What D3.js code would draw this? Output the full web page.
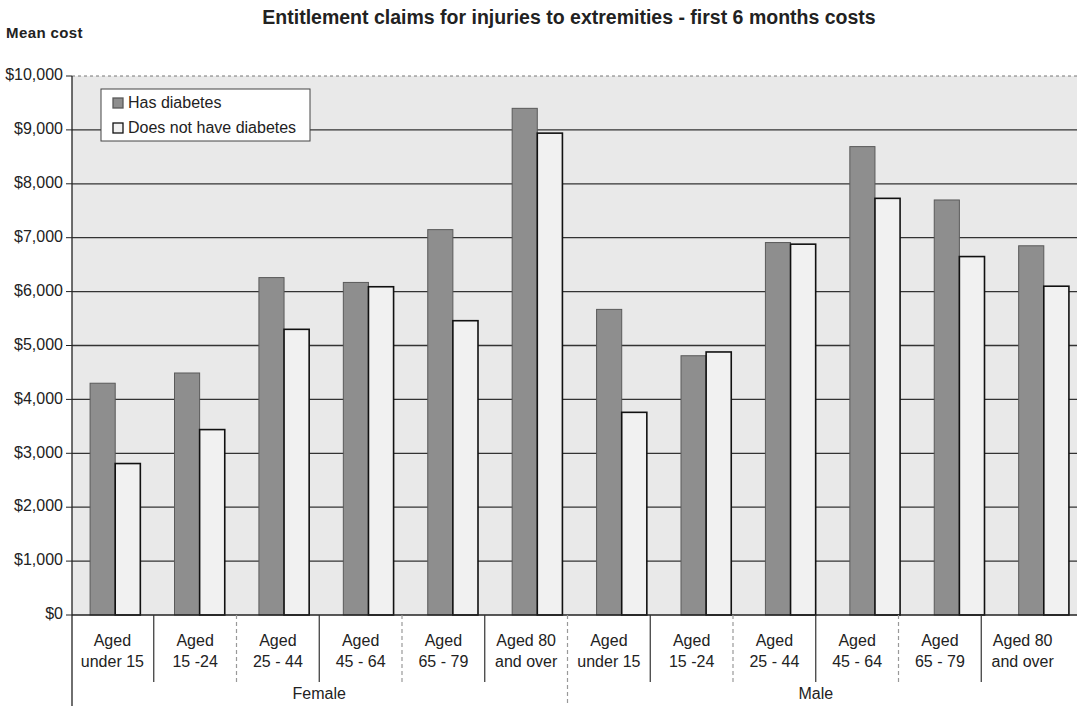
<!DOCTYPE html>
<html>
<head>
<meta charset="utf-8">
<script src="https://cdn.jsdelivr.net/npm/d3@7"></script>
<style>
  body { margin: 0; background: #fff; }
  svg { display: block; font-family: Arial, "Liberation Sans", sans-serif; }
</style>
</head>
<body>
<script>
// chart values
var genders = ['Female', 'Male'];
var ageBands = [['Aged', 'under 15'], ['Aged', '15 -24'], ['Aged', '25 - 44'], ['Aged', '45 - 64'], ['Aged', '65 - 79'], ['Aged 80', 'and over']];
var seriesNames = ['Has diabetes', 'Does not have diabetes'];
var hasDiabetes = [4300, 4490, 6260, 6170, 7150, 9400, 5670, 4810, 6910, 8690, 7700, 6850];
var noDiabetes = [2810, 3440, 5300, 6090, 5460, 8940, 3760, 4880, 6880, 7730, 6650, 6100];
var yTicks = [0, 1000, 2000, 3000, 4000, 5000, 6000, 7000, 8000, 9000, 10000];

var W = 1077, H = 706;
var svg = d3.select('body').append('svg').attr('width', W).attr('height', H);

// one entry per bar group
var cats = [];
genders.forEach(function(g) {
    ageBands.forEach(function(a) { cats.push({ gender: g, age: a, key: g + '|' + a.join(' ') }); });
});
var rows = cats.map(function(c, i) {
    return { key: c.key, values: [hasDiabetes[i], noDiabetes[i]] };
});

var axisX = 72, plotTop = 76, plotBottom = 615;

var y = d3.scaleLinear().domain([0, 10000]).range([plotBottom, plotTop]);
var x0 = d3.scaleBand().domain(cats.map(function(c) { return c.key; })).range([73, 1086]).padding(0);
var xLab = d3.scaleBand().domain(cats.map(function(c) { return c.key; })).range([71, 1064]).padding(0);
var x1 = d3.scaleBand().domain(seriesNames).range([0, x0.bandwidth()]).paddingInner(0).paddingOuter(0.68);
var fills = d3.scaleOrdinal().domain(seriesNames).range(['#8e8e8e', '#f1f1f1']);
var strokes = d3.scaleOrdinal().domain(seriesNames).range(['#5a5a5a', '#111']);

/*PLOT BACKGROUND*/
svg.append('rect')
    .attr('x', axisX).attr('y', plotTop)
    .attr('width', W - axisX).attr('height', plotBottom - plotTop)
    .attr('fill', '#e9e9e9');

/*GRIDLINES*/
svg.selectAll('line.grid')
    .data(yTicks.slice(1))
    .enter().append('line')
        .attr('class', 'grid')
        .attr('x1', axisX).attr('x2', W)
        .attr('y1', function(d) { return y(d); })
        .attr('y2', function(d) { return y(d); })
        .attr('stroke', function(d) { return d === 10000 ? '#777' : '#333'; })
        .attr('stroke-width', function(d) { return d === 10000 ? 1 : 1.3; })
        .attr('stroke-dasharray', function(d) { return d === 10000 ? '3,3' : null; });

/*BARS*/
var groupsG = svg.selectAll('g.bar-group')
    .data(rows)
    .enter().append('g')
        .attr('class', 'bar-group')
        .attr('transform', function(d) { return 'translate(' + x0(d.key) + ',0)'; });

groupsG.selectAll('rect')
    .data(function(d) { return d.values.map(function(v, i) { return { name: seriesNames[i], value: v }; }); })
    .enter().append('rect')
        .attr('x', function(d) { return x1(d.name); })
        .attr('y', function(d) { return y(d.value); })
        .attr('width', x1.bandwidth())
        .attr('height', function(d) { return plotBottom - y(d.value); })
        .attr('fill', function(d) { return fills(d.name); })
        .attr('stroke', function(d) { return strokes(d.name); })
        .attr('stroke-width', function(d, i) { return i === 0 ? 1 : 1.6; });

/*Y AXIS*/
svg.append('line')
    .attr('x1', axisX).attr('x2', axisX)
    .attr('y1', plotTop).attr('y2', H)
    .attr('stroke', '#222').attr('stroke-width', 1.3);

svg.append('line')
    .attr('x1', axisX).attr('x2', W)
    .attr('y1', plotBottom).attr('y2', plotBottom)
    .attr('stroke', '#222').attr('stroke-width', 1.3);

svg.selectAll('line.ytick')
    .data(yTicks)
    .enter().append('line')
        .attr('class', 'ytick')
        .attr('x1', axisX - 6).attr('x2', axisX)
        .attr('y1', function(d) { return y(d); })
        .attr('y2', function(d) { return y(d); })
        .attr('stroke', '#222');

var fmt = d3.format('$,');
svg.selectAll('text.ylab')
    .data(yTicks)
    .enter().append('text')
        .attr('class', 'ylab')
        .attr('x', 63)
        .attr('y', function(d) { return y(d); })
        .attr('text-anchor', 'end')
        .attr('dominant-baseline', 'middle')
        .attr('font-size', 16)
        .attr('fill', '#222')
        .text(function(d) { return fmt(d); });

/*CATEGORY AXIS*/
svg.selectAll('line.sep')
    .data(cats.slice(1))
    .enter().append('line')
        .attr('class', 'sep')
        .attr('x1', function(d) { return xLab(d.key); })
        .attr('x2', function(d) { return xLab(d.key); })
        .attr('y1', plotBottom)
        .attr('y2', function(d, i) { return i === 5 ? H : 682; })
        .attr('stroke', function(d, i) { return i % 2 === 0 ? '#333' : '#999'; })
        .attr('stroke-width', 1.2)
        .attr('stroke-dasharray', function(d, i) { return i % 2 === 0 ? null : '4,3'; });

var catText = svg.append('g').selectAll('text.cat')
    .data(cats)
    .enter().append('text')
        .attr('class', 'cat')
        .attr('text-anchor', 'middle')
        .attr('font-size', 16)
        .attr('fill', '#222');
catText.selectAll('tspan')
    .data(function(d) { return d.age.map(function(t) { return { t: t, key: d.key }; }); })
    .enter().append('tspan')
        .attr('x', function(d) { return xLab(d.key) + xLab.bandwidth() / 2; })
        .attr('y', function(d, i) { return 646 + i * 21; })
        .text(function(d) { return d.t; });

svg.selectAll('text.gender')
    .data(genders)
    .enter().append('text')
        .attr('class', 'gender')
        .attr('x', function(d, i) {
            var first = xLab(d + '|' + ageBands[0].join(' '));
            return first + xLab.bandwidth() * ageBands.length / 2;
        })
        .attr('y', 699)
        .attr('text-anchor', 'middle')
        .attr('font-size', 16)
        .attr('fill', '#222')
        .text(function(d) { return d; });

/*TITLES*/
svg.append('text')
    .attr('x', 569).attr('y', 24)
    .attr('text-anchor', 'middle')
    .attr('font-size', 19.5)
    .attr('font-weight', 'bold')
    .attr('fill', '#222')
    .text('Entitlement claims for injuries to extremities - first 6 months costs');

svg.append('text')
    .attr('x', 6).attr('y', 38)
    .attr('font-size', 15)
    .attr('font-weight', 'bold')
    .attr('letter-spacing', 0.4)
    .attr('fill', '#222')
    .text('Mean cost');

/*LEGEND*/
var legend = svg.append('g').attr('transform', 'translate(101,89)');
legend.append('rect')
    .attr('width', 209).attr('height', 52)
    .attr('fill', '#fff')
    .attr('stroke', '#444').attr('stroke-width', 1);
var items = legend.selectAll('g.item')
    .data(seriesNames)
    .enter().append('g')
        .attr('class', 'item')
        .attr('transform', function(d, i) { return 'translate(12,' + (14 + i * 25) + ')'; });
items.append('rect')
    .attr('x', 0).attr('y', -5)
    .attr('width', 10).attr('height', 10)
    .attr('fill', function(d) { return fills(d); })
    .attr('stroke', function(d) { return strokes(d); })
    .attr('stroke-width', 1.3);
items.append('text')
    .attr('x', 15).attr('y', 1)
    .attr('dominant-baseline', 'middle')
    .attr('font-size', 16)
    .attr('fill', '#222')
    .text(function(d) { return d; });
</script>
</body>
</html>
